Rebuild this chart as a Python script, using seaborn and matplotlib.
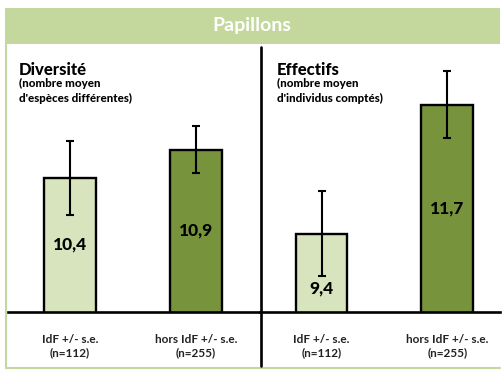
import matplotlib
matplotlib.use("Agg")
import matplotlib.pyplot as plt
from matplotlib.patches import Rectangle
from matplotlib.lines import Line2D
import seaborn as sns
import pandas as pd

sns.set_theme(style="white")
plt.rcParams["font.family"] = ["Lato", "DejaVu Sans"]

# Data
groups = ["IdF +/- s.e.\n(n=112)", "hors IdF +/- s.e.\n(n=255)"]
diversite = [10.4, 10.9]
diversite_se = [0.66, 0.42]
effectifs = [9.4, 11.7]
effectifs_se = [0.76, 0.60]
value_labels_div = ["10,4", "10,9"]
value_labels_eff = ["9,4", "11,7"]
label_frac_div = [0.5, 0.5]
label_frac_eff = [0.3, 0.5]

bar_colors = ["#d7e4bd", "#77933c"]
band_color = "#c4d89e"

W, H = 503, 370
fig = plt.figure(figsize=(W / 100, H / 100), dpi=100)
fig.patch.set_facecolor("white")


def fx(px):
    return px / W


def fy(py):
    return 1 - py / H


# Header band and light green frame
fig.patches.append(Rectangle((fx(5), fy(44)), fx(495), 36 / H,
                             transform=fig.transFigure, facecolor=band_color,
                             edgecolor="none", zorder=0))
fig.lines.append(Line2D([fx(6), fx(6)], [fy(44), fy(368)], transform=fig.transFigure,
                        color=band_color, lw=1.5))
fig.lines.append(Line2D([fx(6), fx(500)], [fy(368), fy(368)], transform=fig.transFigure,
                        color=band_color, lw=1.5))
fig.text(fx(252), fy(25), "Papillons", color="white", fontsize=14,
         fontweight="bold", ha="center", va="center")

ymin, ymax = 8.0, 12.73
base_px, top_px = 312, 47

ax1 = fig.add_axes([fx(8), fy(base_px), fx(252), (base_px - top_px) / H])
ax2 = fig.add_axes([fx(260), fy(base_px), fx(240), (base_px - top_px) / H])


def draw_panel(ax, values, errs, labels, fracs, xlim):
    df = pd.DataFrame({"groupe": groups, "valeur": values})
    sns.barplot(data=df, x="groupe", y="valeur", hue="groupe", palette=bar_colors,
                legend=False, width=0.41, edgecolor="black", linewidth=1.7,
                saturation=1, ax=ax, zorder=2)
    ax.errorbar(range(len(values)), values, yerr=errs, fmt="none", ecolor="black",
                elinewidth=1.5, capsize=3, capthick=1.5, zorder=3)
    for i, (v, lab, f) in enumerate(zip(values, labels, fracs)):
        ax.text(i, ymin + (v - ymin) * f, lab, ha="center", va="center",
                fontsize=12.5, fontweight="black", color="black", zorder=4)
    ax.set_ylim(ymin, ymax)
    ax.set_xlim(*xlim)
    ax.set_xlabel("")
    ax.set_ylabel("")
    ax.set_yticks([])
    ax.tick_params(axis="x", length=0, pad=16, labelsize=8.5, labelcolor="#222222")
    for t in ax.get_xticklabels():
        t.set_fontweight("bold")
        t.set_linespacing(1.2)
    for s in ["top", "right", "left"]:
        ax.spines[s].set_visible(False)
    ax.spines["bottom"].set_color("black")
    ax.spines["bottom"].set_linewidth(1.9)
    ax.set_facecolor("none")


draw_panel(ax1, diversite, diversite_se, value_labels_div, label_frac_div, (-0.49, 1.51))
draw_panel(ax2, effectifs, effectifs_se, value_labels_eff, label_frac_eff, (-0.49, 1.42))

# Vertical divider between the two panels
fig.lines.append(Line2D([fx(261), fx(261)], [fy(47), fy(366)], transform=fig.transFigure,
                        color="black", lw=1.9))

# Panel titles
fig.text(fx(19), fy(70), "Diversité", fontsize=12, fontweight="black", color="black",
         va="center", ha="left")
fig.text(fx(19), fy(91), "(nombre moyen\nd'espèces différentes)", fontsize=8.3,
         fontweight="black", color="black", va="center", ha="left", linespacing=1.45)
fig.text(fx(277), fy(70), "Effectifs", fontsize=12, fontweight="black", color="black",
         va="center", ha="left")
fig.text(fx(277), fy(91), "(nombre moyen\nd'individus comptés)", fontsize=8.3,
         fontweight="black", color="black", va="center", ha="left", linespacing=1.45)

fig.savefig("out.png", dpi=100, facecolor="white")
